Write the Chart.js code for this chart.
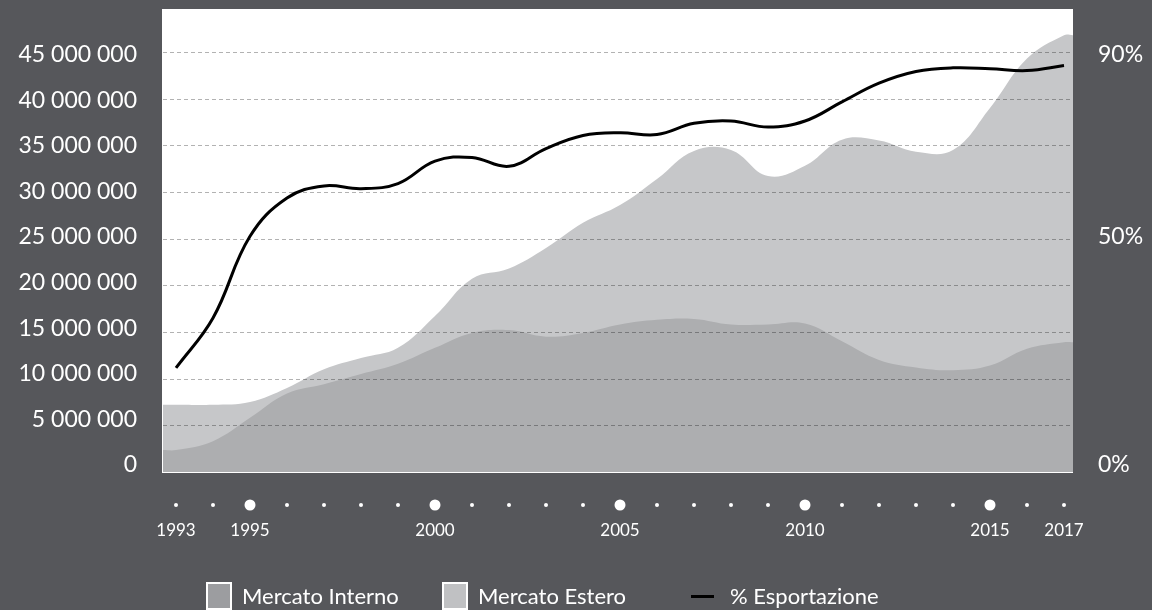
<!DOCTYPE html>
<html lang="it">
<head>
<meta charset="utf-8">
<title>Mercato interno ed estero 1993–2017</title>
<script src="https://cdn.jsdelivr.net/npm/chart.js@4.4.1/dist/chart.umd.min.js"></script>
<style>
  html, body { margin: 0; padding: 0; background: #56575b; }
  #wrap { position: relative; width: 1152px; height: 610px; overflow: hidden; }
  #chart { display: block; }
  #legend { position: absolute; left: 0; top: 582px; width: 100%; height: 28px;
            font-family: Lato, sans-serif; font-size: 22px; line-height: 28px; color: #fff; }
  .item { position: absolute; top: 0; height: 28px; display: flex; align-items: center; white-space: nowrap; }
  .swatch { width: 26px; height: 28px; box-sizing: border-box; border: 2px solid #fff; margin-right: 10px; }
  .dash { width: 23px; height: 3px; background: #000; margin-right: 16px; }
</style>
</head>
<body>
<div id="wrap">
  <canvas id="chart" width="1152" height="610"></canvas>
  <div id="legend">
    <div class="item" style="left:206px"><span class="swatch" style="background:#9c9da0"></span>Mercato Interno</div>
    <div class="item" style="left:442px"><span class="swatch" style="background:#c0c1c3"></span>Mercato Estero</div>
    <div class="item" style="left:691px"><span class="dash"></span>% Esportazione</div>
  </div>
</div>
<script>
const years = [1993, 1994, 1995, 1996, 1997, 1998, 1999, 2000, 2001, 2002, 2003, 2004, 2005,
               2006, 2007, 2008, 2009, 2010, 2011, 2012, 2013, 2014, 2015, 2016, 2017];
const labelledYears = [1993, 1995, 2000, 2005, 2010, 2015, 2017];
const bigDotYears = [1995, 2000, 2005, 2010, 2015];

const mercatoInterno = [2350000, 3300000, 5800000, 8400000, 9400000, 10500000, 11600000, 13300000,
                        14900000, 15200000, 14500000, 14900000, 15800000, 16300000, 16400000, 15800000,
                        15800000, 15900000, 14000000, 12000000, 11200000, 10900000, 11400000, 13200000, 13900000];
const mercatoEstero = [7200000, 7200000, 7500000, 9000000, 11000000, 12200000, 13300000, 16700000,
                       20700000, 21800000, 24000000, 26700000, 28600000, 31400000, 34400000, 34500000,
                       31700000, 32800000, 35600000, 35500000, 34300000, 34500000, 39000000, 44300000, 46800000];
const esportazione = [22.3, 33.0, 50.5, 58.7, 61.3, 60.7, 61.8, 66.6, 67.4, 65.5, 69.3, 72.1, 72.7,
                      72.3, 74.7, 75.2, 73.9, 75.2, 79.3, 83.3, 85.8, 86.6, 86.4, 86.0, 87.1];

const valueTicks = [0, 5000000, 10000000, 15000000, 20000000, 25000000, 30000000, 35000000, 40000000, 45000000];
const pctTicks = [0, 50, 90];

// axis ranges
const X_MIN = 1992.6486, X_MAX = 2017.2432;
const Y_MAX = 49600000;
const VALUE_PER_PCT = 500000;           // 100% sits at 50 000 000
const LAB_MIN = -790000, LAB_MAX = 50030000;

const INTERNO_COLOR = '#adaeb0';
const ESTERO_COLOR = '#c6c7c9';

// areas run out to both edges of the plot
function areaPoints(values) {
  const pts = years.map((yr, i) => ({ x: yr, y: values[i] }));
  return [{ x: X_MIN, y: values[0] }, ...pts, { x: X_MAX, y: values[values.length - 1] }];
}

function spaced(v) {
  return String(v).replace(/\B(?=(\d{3})+(?!\d))/g, ' ');
}

const plotBackground = {
  id: 'plotBackground',
  beforeDraw(chart) {
    const { ctx, chartArea: a } = chart;
    ctx.save();
    ctx.fillStyle = '#fff';
    ctx.fillRect(a.left - 1, a.top, a.right - a.left + 1, a.bottom - a.top + 1);
    ctx.restore();
  }
};

// dashed lines go over the areas but under the percentage line
const dashedGrid = {
  id: 'dashedGrid',
  beforeDatasetDraw(chart, args) {
    if (args.meta.yAxisID !== 'yPct') return;
    const { ctx, chartArea: a, scales: { y } } = chart;
    ctx.save();
    ctx.strokeStyle = 'rgba(0, 0, 0, 0.3)';
    ctx.lineWidth = 1;
    ctx.setLineDash([4, 3]);
    y.ticks.forEach(t => {
      if (t.value === 0) return;
      const py = Math.round(y.getPixelForValue(t.value)) + 0.5;
      ctx.beginPath();
      ctx.moveTo(a.left, py);
      ctx.lineTo(a.right, py);
      ctx.stroke();
    });
    ctx.restore();
  }
};

const yearDots = {
  id: 'yearDots',
  afterDraw(chart) {
    const { ctx, chartArea: a, scales: { x } } = chart;
    ctx.save();
    ctx.fillStyle = '#fff';
    x.ticks.forEach(t => {
      const r = bigDotYears.includes(t.value) ? 5.5 : 2;
      ctx.beginPath();
      ctx.arc(x.getPixelForValue(t.value), a.bottom + 33, r, 0, Math.PI * 2);
      ctx.fill();
    });
    ctx.restore();
  }
};

function sideAxis(width) {
  return scale => {
    scale.width = width;
    scale.paddingTop = 0;
    scale.paddingBottom = 0;
  };
}

Chart.defaults.font.family = 'Lato, sans-serif';
Chart.defaults.color = '#fff';

const ctx = document.getElementById('chart').getContext('2d');
new Chart(ctx, {
  type: 'line',
  data: {
    datasets: [
      {
        label: 'Mercato Interno',
        data: areaPoints(mercatoInterno),
        xAxisID: 'x', yAxisID: 'y',
        order: 1,
        fill: 'origin',
        backgroundColor: INTERNO_COLOR,
        borderWidth: 0,
        pointRadius: 0,
        tension: 0.4
      },
      {
        label: 'Mercato Estero',
        data: areaPoints(mercatoEstero),
        xAxisID: 'x', yAxisID: 'y',
        order: 2,
        fill: 'origin',
        backgroundColor: ESTERO_COLOR,
        borderWidth: 0,
        pointRadius: 0,
        tension: 0.4
      },
      {
        label: '% Esportazione',
        data: years.map((yr, i) => ({ x: yr, y: esportazione[i] })),
        xAxisID: 'x', yAxisID: 'yPct',
        order: 0,
        fill: false,
        borderColor: '#000',
        borderWidth: 3,
        pointRadius: 0,
        tension: 0.4
      }
    ]
  },
  options: {
    responsive: false,
    animation: false,
    layout: { padding: { top: 9, left: 0, right: 0, bottom: 0 } },
    plugins: { legend: { display: false }, tooltip: { enabled: false } },
    scales: {
      x: {
        type: 'linear',
        position: 'bottom',
        min: X_MIN,
        max: X_MAX,
        afterBuildTicks: scale => { scale.ticks = years.map(v => ({ value: v })); },
        afterFit: scale => { scale.height = 138; scale.paddingLeft = 0; scale.paddingRight = 0; },
        grid: { display: false, drawTicks: false },
        border: { display: false },
        ticks: {
          autoSkip: false,
          maxRotation: 0,
          minRotation: 0,
          padding: 48,
          color: '#fff',
          font: { size: 17 },
          callback: v => labelledYears.includes(v) ? String(v) : ''
        }
      },
      y: {
        type: 'linear',
        display: false,
        min: 0,
        max: Y_MAX,
        afterBuildTicks: scale => { scale.ticks = valueTicks.map(v => ({ value: v })); }
      },
      yPct: {
        type: 'linear',
        display: false,
        min: 0,
        max: Y_MAX / VALUE_PER_PCT
      },
      yLab: {
        type: 'linear',
        position: 'left',
        min: LAB_MIN,
        max: LAB_MAX,
        afterBuildTicks: scale => { scale.ticks = valueTicks.map(v => ({ value: v })); },
        afterFit: sideAxis(163),
        grid: { display: false, drawTicks: false },
        border: { display: false },
        ticks: { padding: 26, font: { size: 23 }, color: '#fff', callback: v => spaced(v) }
      },
      yPctLab: {
        type: 'linear',
        position: 'right',
        min: LAB_MIN / VALUE_PER_PCT,
        max: LAB_MAX / VALUE_PER_PCT,
        afterBuildTicks: scale => { scale.ticks = pctTicks.map(v => ({ value: v })); },
        afterFit: sideAxis(79),
        grid: { display: false, drawTicks: false },
        border: { display: false },
        ticks: { padding: 25, font: { size: 23 }, color: '#fff', callback: v => v + '%' }
      }
    }
  },
  plugins: [plotBackground, dashedGrid, yearDots]
});
</script>
</body>
</html>
